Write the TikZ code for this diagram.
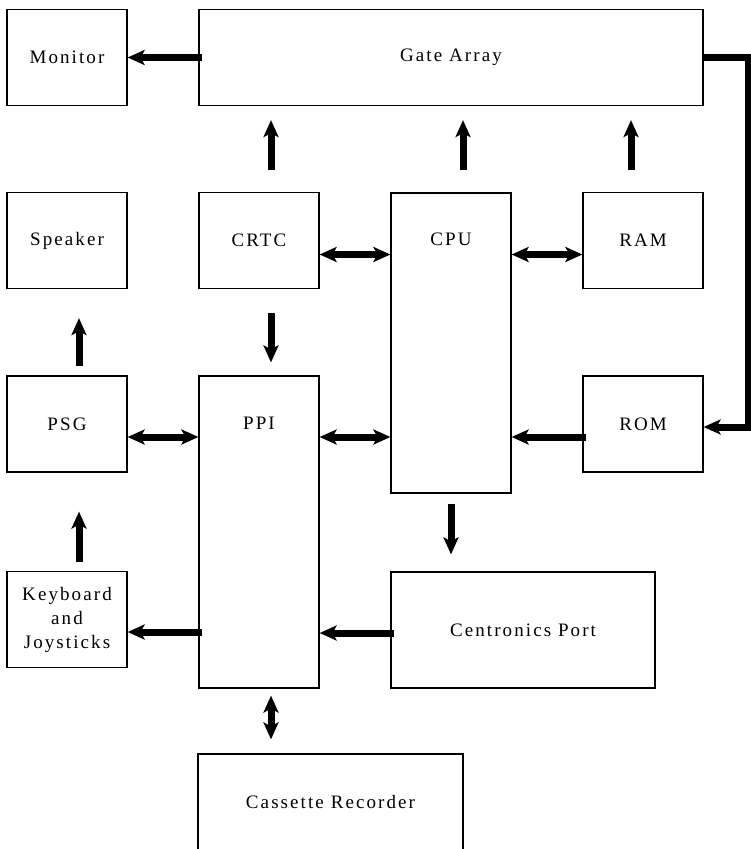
\documentclass[tikz,border=0pt]{standalone}
\usepackage{fontspec}
\setmainfont{Liberation Serif}[LetterSpace=11]
\usetikzlibrary{arrows.meta}

\tikzset{
  blk/.style={draw, line width=1.2pt, minimum width=120pt, minimum height=96pt, inner sep=0pt, align=center},
  tip/.style={Stealth[length=17pt,width=15pt,inset=4pt]},
  bus/.style={line width=7pt, -{Stealth[length=17pt,width=15pt,inset=4pt]}},
  dbus/.style={line width=7pt, {Stealth[length=17pt,width=15pt,inset=4pt]}-{Stealth[length=17pt,width=15pt,inset=4pt]}},
}

\begin{document}
\begin{tikzpicture}[x=1pt,y=-1pt,font=\fontsize{19}{24}\selectfont]
            \useasboundingbox (0,0) rectangle (751,849);
            \clip (0,0) rectangle (751,849);
            \node[blk] at (67,57.5) (monitor) {Monitor};
            \node[blk, minimum width=504pt] at (451,57.5) (gate) {Gate Array};
            \node[blk] at (67,240.5) (speaker) {Speaker};
            \node[blk] at (259,240.5) (crtc) {CRTC};
            \node[blk, minimum height=300pt, label={[anchor=center,yshift=-47pt]north:CPU}] at (451,343) (cpu) {};
            \node[blk] at (643,240.5) (ram) {RAM};
            \node[blk] at (67,424) (psg) {PSG};
            \node[blk, minimum height=312pt, label={[anchor=center,yshift=-48pt]north:PPI}] at (259,532) (ppi) {};
            \node[blk] at (643,424) (rom) {ROM};
            \node[blk] at (67,619.5) (keys) {Keyboard\\and\\Joysticks};
            \node[blk, minimum width=264pt, minimum height=116pt] at (523,630) (centronics) {Centronics Port};
            \node[blk, minimum width=265pt] at (330.5,802) (cassette) {Cassette Recorder};
            \draw[bus] ([xshift=4pt]gate.west) to (monitor.east);
            \draw[bus, shorten <=22pt, shorten >=14pt] ([xshift=12pt]crtc.north) to ([xshift=12pt]crtc.north |- gate.south);
            \draw[bus, shorten <=22pt, shorten >=14pt] ([xshift=12pt]cpu.north) to ([xshift=12pt]cpu.north |- gate.south);
            \draw[bus, shorten <=22pt, shorten >=14pt] ([xshift=-12pt]ram.north) to ([xshift=-12pt]ram.north |- gate.south);
            \draw[bus] (gate.east) -- ++(45,0) |- ([yshift=-3pt]rom.east);
            \draw[dbus] ([yshift=-14pt]crtc.east) to ([yshift=-14pt]cpu.west |- crtc.east);
            \draw[dbus] ([yshift=-14pt]cpu.east |- ram.west) to ([yshift=-14pt]ram.west);
            \draw[bus, shorten <=9pt, shorten >=29pt] ([xshift=12pt]psg.north) to ([xshift=12pt]psg.north |- speaker.south);
            \draw[bus, shorten <=24pt, shorten >=13pt] ([xshift=12pt]crtc.south) to ([xshift=12pt]crtc.south |- ppi.north);
            \draw[dbus] ([yshift=-13pt]psg.east) to ([yshift=-13pt]ppi.west |- psg.east);
            \draw[dbus] ([yshift=-13pt]ppi.east |- psg.east) to ([yshift=-13pt]cpu.west |- psg.east);
            \draw[bus] ([xshift=4pt,yshift=-13pt]rom.west) to ([yshift=-13pt]cpu.east |- rom.west);
            \draw[bus, shorten <=10pt, shorten >=17pt] (cpu.south) to (cpu.south |- centronics.north);
            \draw[bus, shorten <=9pt, shorten >=39pt] ([xshift=12pt]keys.north) to ([xshift=12pt]keys.north |- psg.south);
            \draw[bus] ([xshift=4pt,yshift=-12.5pt]ppi.west |- keys.east) to ([yshift=-12.5pt]keys.east);
            \draw[bus] ([xshift=4pt,yshift=-3pt]centronics.west) to ([yshift=-3pt]ppi.east |- centronics.west);
            \draw[dbus, shorten <=7pt, shorten >=14pt] ([xshift=12pt]ppi.south) to ([xshift=12pt]ppi.south |- cassette.north);
        \end{tikzpicture}
\end{document}
